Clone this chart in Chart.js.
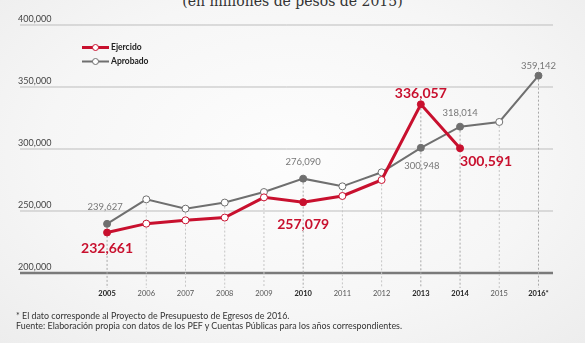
<!DOCTYPE html>
<html>
<head>
<meta charset="utf-8">
<script src="https://cdn.jsdelivr.net/npm/chart.js@4.4.1/dist/chart.umd.min.js"></script>
<style>
  html, body { margin: 0; padding: 0; }
  body {
    width: 585px; height: 343px; overflow: hidden; position: relative;
    background: radial-gradient(ellipse at 50% 45%, #fdfdfd 0%, #f6f6f6 60%, #ededed 100%);
    font-family: Lato, "Open Sans", sans-serif;
  }
  #wrap { position: absolute; left: 0; top: 0; width: 585px; height: 343px; }
  .title {
    position: absolute; left: 0; width: 585px; top: -6px; text-align: center;
    font-family: "DejaVu Serif", serif; font-size: 14px; line-height: 14px; color: #333;
    white-space: nowrap;
  }
  .notes {
    position: absolute; left: 16px; top: 311px; font-size: 8.9px; line-height: 10px; color: #333;
    white-space: nowrap;
  }
</style>
</head>
<body>
<div class="title">(en millones de pesos de 2015)</div>
<div id="wrap"><canvas id="chart" width="585" height="343"></canvas></div>
<div class="notes">
  * El dato corresponde al Proyecto de Presupuesto de Egresos de 2016.<br>
  Fuente: Elaboración propia con datos de los PEF y Cuentas Públicas para los años correspondientes.
</div>
<script>
// datos
const years = [2005, 2006, 2007, 2008, 2009, 2010, 2011, 2012, 2013, 2014, 2015, 2016];
const yearLabels = ['2005', '2006', '2007', '2008', '2009', '2010', '2011', '2012', '2013', '2014', '2015', '2016*'];
const ejercido = [232661, 239800, 242500, 244700, 261000, 257079, 262100, 275000, 336057, 300591];
const aprobado = [239627, 259400, 251900, 256800, 265300, 276090, 269900, 281200, 300948, 318014, 321800, 359142];
const yTicks = [200000, 250000, 300000, 350000, 400000];
const boldYears = [2005, 2010, 2013, 2014, 2016];

const RED = '#c8102e';
const GRAY = '#6f6f6f';

// etiquetas de valores: [serie, indice, dx, dy, align]
const valueLabels = [
  [0, 0, 0, 16, 'center'],
  [0, 5, 0, 22, 'center'],
  [0, 8, 0, -11, 'center'],
  [0, 9, 0, 13, 'left'],
  [1, 0, -2, -17, 'center'],
  [1, 5, 0, -17, 'center'],
  [1, 8, 1, 18, 'center'],
  [1, 9, 0, -14, 'center'],
  [1, 11, 0, -10, 'center'],
];

const fmt = v => v.toLocaleString('en-US');

const toPoints = arr => arr.map((v, i) => ({ x: years[i], y: v }));
const fills = (arr, color) => arr.map((v, i) => boldYears.includes(years[i]) ? color : '#ffffff');

const backgroundPlugin = {
  id: 'fondo',
  beforeDatasetsDraw(chart) {
    const ctx = chart.ctx, x = chart.scales.x, y = chart.scales.y, area = chart.chartArea;
    ctx.save();
    // lineas horizontales
    yTicks.forEach(t => {
      const py = y.getPixelForValue(t);
      ctx.beginPath();
      ctx.strokeStyle = t === 200000 ? '#7a7a7a' : '#bdbdbd';
      ctx.lineWidth = t === 200000 ? 2.5 : 1;
      ctx.moveTo(area.left, py);
      ctx.lineTo(area.right, py);
      ctx.stroke();
      ctx.fillStyle = '#444';
      ctx.font = '9px Lato';
      ctx.textAlign = 'left';
      ctx.textBaseline = 'alphabetic';
      ctx.fillText(fmt(t), area.left - 2, py - 3);
    });
    // lineas punteadas verticales
    ctx.setLineDash([2, 2]);
    ctx.lineWidth = 1;
    years.forEach((yr, i) => {
      const vals = [ejercido[i], aprobado[i]].filter(v => v != null);
      const top = y.getPixelForValue(Math.max(...vals));
      const px = x.getPixelForValue(yr);
      ctx.strokeStyle = boldYears.includes(yr) ? '#a8a8a8' : '#c6c6c6';
      ctx.beginPath();
      ctx.moveTo(px, top);
      ctx.lineTo(px, area.bottom + 15);
      ctx.stroke();
    });
    ctx.setLineDash([]);
    // años
    ctx.textAlign = 'center';
    ctx.textBaseline = 'middle';
    years.forEach((yr, i) => {
      const bold = boldYears.includes(yr);
      ctx.font = (bold ? 'bold ' : '') + '7.5px Lato';
      ctx.fillStyle = bold ? '#1e1e1e' : '#555';
      ctx.fillText(yearLabels[i], x.getPixelForValue(yr), area.bottom + 21);
    });
    ctx.restore();
  },
  afterDatasetsDraw(chart) {
    const ctx = chart.ctx;
    ctx.save();
    ctx.textBaseline = 'middle';
    valueLabels.forEach(([ds, i, dx, dy, align]) => {
      const el = chart.getDatasetMeta(ds).data[i];
      const val = chart.data.datasets[ds].data[i].y;
      ctx.textAlign = align;
      if (ds === 0) {
        ctx.font = 'bold 14px Lato';
        ctx.fillStyle = RED;
      } else {
        ctx.font = '9.5px Lato';
        ctx.fillStyle = '#777';
      }
      ctx.fillText(fmt(val), el.x + dx, el.y + dy);
    });
    // leyenda
    const items = [['Ejercido', RED, 3, 47.5], ['Aprobado', GRAY, 2, 61.5]];
    items.forEach(([txt, col, w, ly]) => {
      ctx.beginPath();
      ctx.strokeStyle = col;
      ctx.lineWidth = w;
      ctx.moveTo(82, ly);
      ctx.lineTo(109, ly);
      ctx.stroke();
      ctx.beginPath();
      ctx.fillStyle = '#fff';
      ctx.lineWidth = 1;
      ctx.arc(95.5, ly, 3, 0, Math.PI * 2);
      ctx.fill();
      ctx.stroke();
      ctx.fillStyle = '#222';
      ctx.font = 'bold 8.5px Lato';
      ctx.textAlign = 'left';
      ctx.fillText(txt, 111, ly);
    });
    ctx.restore();
  }
};

new Chart(document.getElementById('chart'), {
  type: 'line',
  data: {
    datasets: [
      {
        label: 'Ejercido',
        data: toPoints(ejercido),
        borderColor: RED,
        borderWidth: 3,
        pointBackgroundColor: fills(ejercido, RED),
        pointBorderColor: RED,
        pointBorderWidth: 1,
        pointRadius: 3.5,
        tension: 0,
        order: 0
      },
      {
        label: 'Aprobado',
        data: toPoints(aprobado),
        borderColor: GRAY,
        borderWidth: 2,
        pointBackgroundColor: fills(aprobado, GRAY),
        pointBorderColor: GRAY,
        pointBorderWidth: 1,
        pointRadius: 3.5,
        tension: 0,
        order: 1
      }
    ]
  },
  options: {
    responsive: false,
    animation: false,
    devicePixelRatio: 1,
    layout: { padding: { left: 20, right: 32, top: 25, bottom: 70 } },
    plugins: { legend: { display: false }, tooltip: { enabled: false } },
    scales: {
      x: { type: 'linear', display: false, min: 2002.78, max: 2016.37 },
      y: { display: false, min: 200000, max: 400000 }
    }
  },
  plugins: [backgroundPlugin]
});
</script>
</body>
</html>
